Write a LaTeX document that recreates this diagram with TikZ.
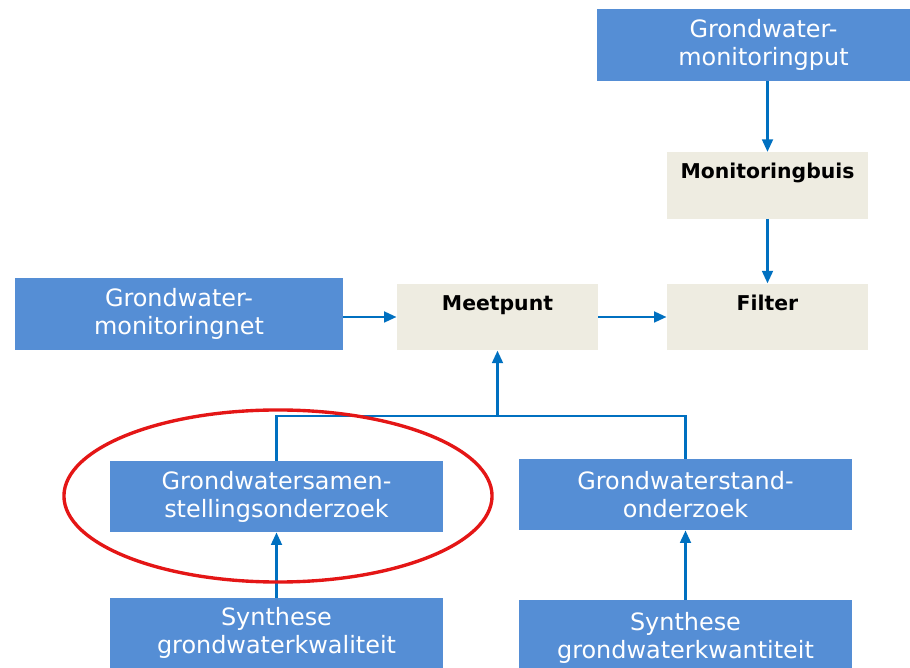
\documentclass[tikz,border=0pt]{standalone}
\usepackage{fontspec}
\setmainfont{DejaVu Sans}
\usetikzlibrary{arrows.meta}
\definecolor{boxblue}{RGB}{85,142,213}
\definecolor{boxbeige}{RGB}{238,236,225}
\definecolor{lineblue}{RGB}{0,112,192}
\definecolor{ringred}{RGB}{228,22,22}

\begin{document}
\begin{tikzpicture}[x=0.025cm,y=-0.025cm,
    bluebox/.style={fill=boxblue, text=white, align=center, inner sep=0pt,
        minimum width=8.325cm, minimum height=1.775cm,
        font=\fontsize{17}{20}\selectfont},
    beigebox/.style={fill=boxbeige, inner sep=0pt, minimum width=5.025cm,
        text height=0.66cm, text depth=1.0cm,
        font=\bfseries\fontsize{14.5}{17}\selectfont},
    link/.style={draw=lineblue, line width=2.1pt, -{Triangle[length=9pt,width=7.5pt]}}]
    \useasboundingbox (0,0) rectangle (910,668);
    \node[bluebox] (put) at (763.5,45) {Grondwater-\\monitoringput};
    \node[beigebox] (buis) at (767.5,185.5) {Monitoringbuis};
    \node[beigebox] (filter) at (767.5,317) {Filter};
    \node[beigebox] (meetpunt) at (497.5,317) {Meetpunt};
    \node[bluebox, minimum width=8.2cm, minimum height=1.8cm] (net) at (179,314) {Grondwater-\\monitoringnet};
    \node[bluebox] (samen) at (276.5,496.5) {Grondwatersamen-\\stellingsonderzoek};
    \node[bluebox] (stand) at (685.5,494.5) {Grondwaterstand-\\onderzoek};
    \node[bluebox, minimum height=1.75cm] (kwal) at (276.5,633) {Synthese\\grondwaterkwaliteit};
    \node[bluebox, minimum height=1.9cm] (kwant) at (685.5,638) {Synthese\\grondwaterkwantiteit};
    \coordinate (split) at (497.5,416);
    \draw[link] (put.south -| buis.north) -- (buis.north);
    \draw[link] (buis.south) -- (filter.north);
    \draw[link] (net.east |- meetpunt.west) -- (meetpunt.west);
    \draw[link] (meetpunt.east) -- (filter.west);
    \draw[draw=lineblue, line width=2.1pt] (samen.north) |- (split) -| (stand.north);
    \draw[link] (split) -- (meetpunt.south);
    \draw[link] (kwal.north) -- (samen.south);
    \draw[link] (kwant.north) -- (stand.south);
    % rode markering
    \draw[ringred, line width=2.4pt] (278,496) ellipse [x radius=5.35cm, y radius=2.15cm];
\end{tikzpicture}
\end{document}
